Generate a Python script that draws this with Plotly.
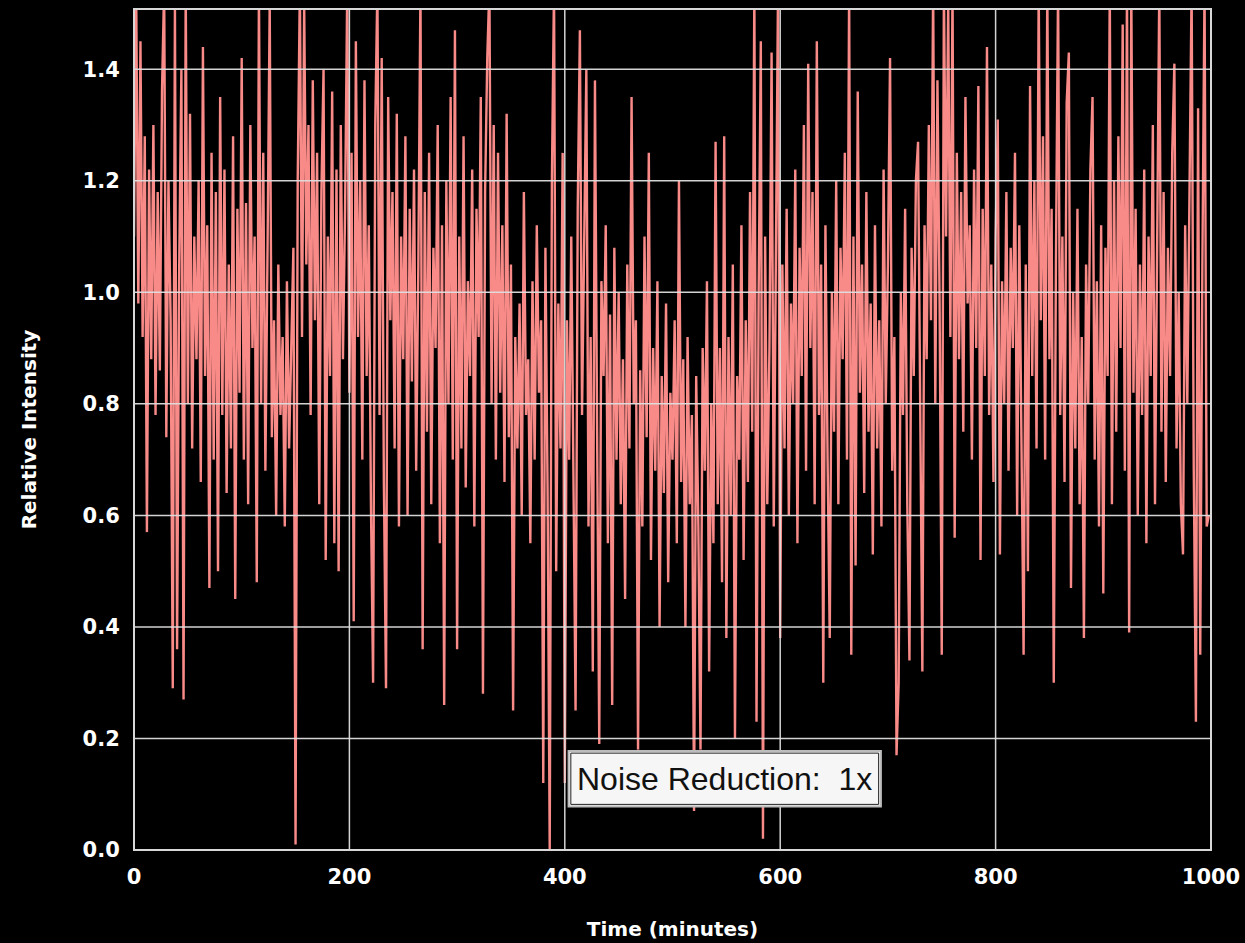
import plotly.graph_objects as go

# Time axis: one sample every 2 minutes
times = list(range(0, 1000, 2))

intensity = [
    # 0-48
    1.10, 1.55, 0.98, 1.45, 0.92, 1.28, 0.57, 1.22, 0.88, 1.30, 0.78, 1.18, 0.86, 1.36, 1.55, 0.74, 1.20, 0.95, 0.29, 1.52, 0.36, 1.05, 1.40, 0.27, 1.55,
    # 50-98
    0.80, 1.32, 0.72, 1.10, 0.88, 1.20, 0.66, 1.44, 0.85, 1.12, 0.47, 1.25, 0.70, 1.18, 0.50, 1.35, 0.78, 1.22, 0.64, 1.05, 0.72, 1.28, 0.45, 1.15, 0.82,
    # 100-148
    1.42, 0.70, 1.16, 0.62, 1.30, 0.90, 1.10, 0.48, 1.55, 0.80, 1.25, 0.68, 1.08, 1.52, 0.74, 0.95, 0.60, 1.05, 0.78, 0.92, 0.58, 1.02, 0.72, 0.88, 1.08,
    # 150-198
    0.01, 1.20, 1.55, 0.92, 1.52, 1.05, 1.30, 0.78, 1.38, 0.95, 1.25, 0.62, 1.18, 1.40, 0.52, 1.10, 0.85, 1.36, 0.55, 1.22, 0.50, 1.30, 0.88, 1.15, 1.55,
    # 200-248
    0.82, 1.25, 0.41, 1.45, 0.92, 1.20, 0.70, 1.38, 0.85, 1.12, 0.62, 0.30, 1.30, 1.55, 0.78, 1.42, 0.66, 0.29, 1.35, 0.95, 1.18, 0.72, 1.32, 0.58, 1.10,
    # 250-298
    0.88, 1.28, 0.60, 1.15, 0.84, 1.22, 0.68, 1.05, 1.55, 0.36, 1.18, 0.75, 1.25, 0.62, 1.08, 0.90, 1.30, 0.55, 1.12, 0.26, 1.20, 0.80, 1.35, 0.70, 1.47,
    # 300-348
    0.36, 1.10, 0.72, 1.28, 0.65, 1.02, 0.85, 1.22, 0.58, 1.15, 0.92, 1.35, 0.28, 1.18, 1.42, 1.55, 0.80, 1.30, 0.70, 1.25, 0.82, 1.12, 0.66, 1.32, 0.74,
    # 350-398
    1.05, 0.25, 0.92, 0.72, 0.98, 0.60, 1.18, 0.78, 0.88, 0.55, 1.02, 0.70, 1.12, 0.82, 0.95, 0.12, 1.08, 0.65, 0.00, 1.20, 1.55, 0.50, 0.98, 0.72, 1.25,
    # 400-448
    0.12, 0.95, 0.70, 1.10, 0.62, 0.25, 1.15, 1.47, 0.78, 1.05, 1.40, 0.58, 0.92, 0.32, 1.38, 0.75, 0.19, 1.02, 0.85, 1.12, 0.55, 0.96, 0.26, 1.08, 0.70,
    # 450-498
    1.00, 0.62, 0.88, 0.45, 1.05, 0.72, 1.35, 0.80, 0.95, 0.18, 0.86, 0.58, 1.10, 0.74, 1.25, 0.52, 0.90, 0.68, 1.02, 0.40, 0.85, 0.64, 0.98, 0.48, 0.82,
    # 500-548
    0.70, 0.95, 0.55, 1.20, 0.66, 0.88, 0.40, 0.92, 0.62, 0.78, 0.07, 0.85, 0.58, 0.18, 0.90, 0.68, 1.02, 0.32, 0.80, 0.55, 1.27, 0.62, 0.90, 0.48, 1.28,
    # 550-598
    0.38, 0.92, 0.60, 1.05, 0.20, 0.85, 0.70, 1.12, 0.52, 0.95, 0.66, 1.18, 0.75, 1.55, 0.23, 1.00, 1.45, 0.02, 1.10, 0.62, 0.90, 1.43, 0.58, 1.02, 1.55,
    # 600-648
    0.38, 1.05, 0.72, 1.15, 0.60, 0.98, 0.80, 1.22, 0.55, 1.08, 0.85, 1.30, 0.68, 1.41, 0.90, 1.18, 0.62, 1.45, 0.78, 1.05, 0.30, 1.12, 0.70, 0.38, 1.00,
    # 650-698
    0.75, 1.20, 0.62, 1.08, 0.88, 1.25, 0.70, 1.55, 0.35, 1.10, 0.51, 1.36, 0.82, 1.05, 0.64, 1.18, 0.75, 0.98, 0.53, 1.12, 0.72, 0.95, 0.58, 1.22, 0.80,
    # 700-748
    1.05, 1.42, 0.68, 0.92, 0.17, 0.30, 1.00, 0.78, 1.15, 0.62, 0.34, 1.08, 0.85, 1.20, 1.27, 0.72, 0.32, 1.12, 0.88, 1.30, 0.95, 1.55, 0.80, 1.38, 0.98,
    # 750-798
    0.35, 1.55, 1.10, 1.52, 0.92, 1.55, 0.56, 1.25, 0.88, 1.18, 0.75, 1.35, 0.98, 1.12, 0.70, 1.22, 0.90, 1.37, 0.52, 1.15, 0.85, 1.44, 0.78, 1.05, 0.66,
    # 800-848
    1.10, 1.31, 0.53, 1.02, 0.80, 1.18, 0.68, 1.08, 0.90, 1.25, 0.60, 1.12, 0.75, 0.35, 1.05, 0.50, 1.37, 0.85, 1.20, 0.72, 1.55, 0.95, 1.28, 0.70, 1.55,
    # 850-898
    0.88, 1.15, 0.30, 1.05, 1.55, 0.78, 1.10, 0.66, 1.34, 1.43, 0.47, 1.00, 0.72, 1.15, 0.62, 0.92, 0.38, 1.05, 0.80, 1.22, 1.35, 0.70, 1.02, 0.58, 1.12,
    # 900-948
    0.46, 1.08, 0.85, 1.55, 0.62, 1.20, 0.75, 1.28, 0.90, 1.48, 0.68, 1.55, 0.39, 1.55, 0.82, 1.15, 0.60, 1.05, 0.78, 1.22, 0.55, 1.10, 0.85, 1.30, 0.62,
    # 950-998
    1.02, 1.55, 0.75, 1.18, 0.66, 1.08, 0.85, 1.25, 1.41, 0.72, 1.00, 0.62, 0.53, 1.12, 0.80, 1.20, 1.55, 0.68, 0.23, 1.33, 0.35, 1.05, 1.55, 0.58, 0.60,
]

x_ticks = [0, 200, 400, 600, 800, 1000]
y_ticks = [0.0, 0.2, 0.4, 0.6, 0.8, 1.0, 1.2, 1.4]
y_tick_text = ["0.0", "0.2", "0.4", "0.6", "0.8", "1.0", "1.2", "1.4"]

label_text = "Noise Reduction:&nbsp; 1x"

fig = go.Figure()
fig.add_trace(go.Scatter(
    x=times, y=intensity, mode="lines",
    line=dict(color="#F88A88", width=2.4),
    showlegend=False, hoverinfo="skip",
))

grid_col = "rgba(222,222,222,0.95)"
shapes = []
for xv in x_ticks:
    shapes.append(dict(type="line", xref="x", yref="paper", x0=xv, x1=xv, y0=0, y1=1,
                       line=dict(color=grid_col, width=1.5), layer="above"))
for yv in y_ticks:
    shapes.append(dict(type="line", xref="paper", yref="y", x0=0, x1=1, y0=yv, y1=yv,
                       line=dict(color=grid_col, width=1.5), layer="above"))
# frame
shapes.append(dict(type="rect", xref="paper", yref="paper", x0=0, x1=1, y0=0, y1=1,
                   line=dict(color="#d8d8d8", width=2), layer="above"))
# label box (outer grey, inner dark border)
shapes.append(dict(type="rect", xref="x", yref="y", x0=403.5, x1=693.5, y0=0.078, y1=0.1775,
                   line=dict(color="#bdbdbd", width=2), fillcolor="#f4f4f4", layer="above"))
shapes.append(dict(type="rect", xref="x", yref="y", x0=405.6, x1=691.4, y0=0.0818, y1=0.1737,
                   line=dict(color="#222222", width=1), fillcolor="#f6f6f6", layer="above"))

tick_font = dict(family="DejaVu Sans, sans-serif", size=21, color="white", weight="bold")
title_font = dict(family="DejaVu Sans, sans-serif", size=20, color="white", weight="bold")

fig.update_layout(
    width=1245, height=943,
    paper_bgcolor="black", plot_bgcolor="black",
    margin=dict(l=134, r=34, t=9, b=93, autoexpand=False),
    shapes=shapes,
    annotations=[dict(
        x=548.5, y=0.128, xref="x", yref="y", text=label_text, showarrow=False,
        font=dict(family="Liberation Sans, Arial, sans-serif", size=32, color="#111111"),
        xanchor="center", yanchor="middle",
    )],
    xaxis=dict(
        range=[0, 1000], tickvals=x_ticks, ticktext=[str(v) for v in x_ticks],
        showgrid=False, zeroline=False, showline=False, automargin=False,
        ticks="outside", ticklen=8, tickcolor="black",
        tickfont=tick_font,
        title=dict(text="Time (minutes)", standoff=33, font=title_font),
    ),
    yaxis=dict(
        range=[0, 1.508], tickvals=y_ticks, ticktext=y_tick_text,
        showgrid=False, zeroline=False, showline=False, automargin=False,
        ticks="outside", ticklen=9, tickcolor="black",
        tickfont=tick_font,
        title=dict(text="Relative Intensity", standoff=40, font=title_font),
    ),
)

fig.write_html(
    "out.html",
    config={"displayModeBar": False},
    post_script="document.body.style.margin='0';document.body.style.overflow='hidden';document.body.style.background='black';",
)
